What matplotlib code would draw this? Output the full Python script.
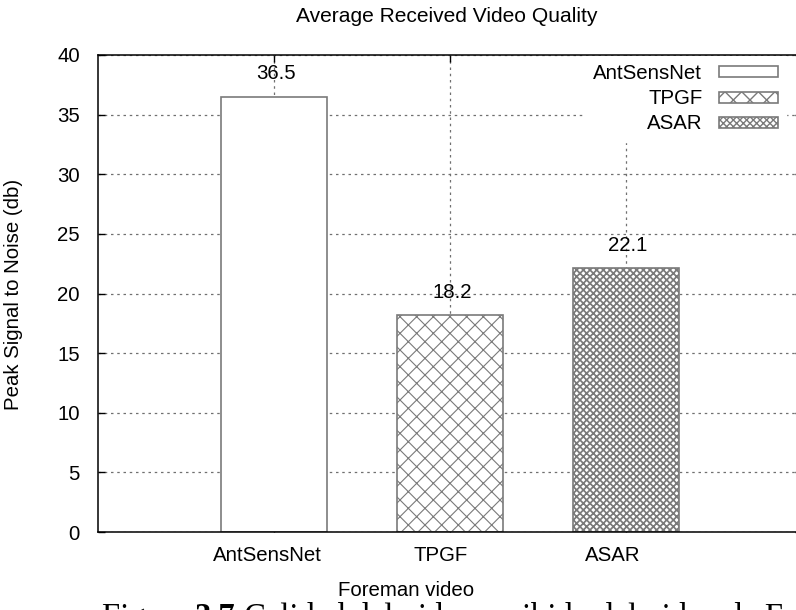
import matplotlib
matplotlib.use("Agg")
import matplotlib.pyplot as plt
import matplotlib.transforms as mtransforms
import numpy as np

# ---- data ----
categories = ["AntSensNet", "TPGF", "ASAR"]
psnr_values = [36.5, 18.2, 22.1]
value_labels = ["36.5", "18.2", "22.1"]
y_ticks = [0, 5, 10, 15, 20, 25, 30, 35, 40]

title = "Average Received Video Quality"
xlabel = "Foreman video"
ylabel = "Peak Signal to Noise (db)"
caption_parts = ["Figura ", "3.7", " Calidad del video recibido del video de Foreman"]

# ---- style ----
plt.rcParams['font.family'] = ['Liberation Sans', 'DejaVu Sans']
FS = 14.7
EDGE = '#7a7a7a'
GRID = '#707070'
hatches = [None, 'xx', 'xxxxx']
hatch_lw = [1.0, 0.8, 1.25]
label_dx_px = [-7, -9, -13]
SERIF = ['Liberation Serif', 'DejaVu Serif']
CAP_FS = 23.5

fig = plt.figure(figsize=(7.96, 6.10), dpi=100)
W, H = 796, 610
ax = fig.add_axes([98 / W, (H - 532) / H, 704 / W, (532 - 55) / H])

x = np.arange(len(categories))
for i, (xi, v) in enumerate(zip(x, psnr_values)):
    with plt.rc_context({'hatch.linewidth': hatch_lw[i]}):
        ax.bar(xi, v, width=0.6, facecolor='white', edgecolor=EDGE,
               linewidth=1.2, hatch=hatches[i], label=categories[i], zorder=3)

ax.set_xlim(-1, 3)
ax.set_ylim(0, 40)
ax.set_yticks(y_ticks)
ax.set_xticks(x)
ax.set_xticklabels(categories)

ax.grid(True, color=GRID, linewidth=0.9, linestyle=(0, (2, 3)), zorder=1)
ax.set_axisbelow(True)

ax.tick_params(axis='both', direction='in', length=5, width=1, labelsize=FS,
               top=True, right=True, color='black')
ax.tick_params(axis='y', pad=13)
ax.tick_params(axis='x', pad=10)
for lab, dx in zip(ax.get_xticklabels(), label_dx_px):
    lab.set_transform(lab.get_transform() +
                      mtransforms.ScaledTranslation(dx / 100, 0, fig.dpi_scale_trans))

for sp in ax.spines.values():
    sp.set_linewidth(1.1)
    sp.set_color('black')
    sp.set_zorder(8)

for xi, v, t in zip(x, psnr_values, value_labels):
    ax.annotate(t, xy=(xi, v), xytext=(1.5, 16.5), textcoords='offset points',
                ha='center', va='center', fontsize=FS, zorder=5)

# title / axis labels
fig.text(447 / W, 1 - 17 / H, title, ha='center', va='center', fontsize=15.1)
fig.text(406 / W, 1 - 590 / H, xlabel, ha='center', va='center', fontsize=FS)
fig.text(14 / W, 1 - 294 / H, ylabel, ha='center', va='center', fontsize=FS,
         rotation=90)

# legend
leg = ax.legend(loc='upper right', bbox_to_anchor=(786 / W, 1 - 56 / H),
                bbox_transform=fig.transFigure, markerfirst=False,
                fontsize=FS, frameon=True, fancybox=False, framealpha=1,
                edgecolor='white', facecolor='white', borderpad=0.4,
                borderaxespad=0, labelspacing=0.3, handlelength=2.9,
                handleheight=0.45, handletextpad=0.8)
leg.set_zorder(6)

# caption (cropped at the bottom edge), "3.7" in bold
renderer = fig.canvas.get_renderer()
base_y = -16 / H
cur_x = 102
for j, part in enumerate(caption_parts):
    t = fig.text(cur_x / W, base_y, part, ha='left', va='baseline',
                 fontsize=CAP_FS, family=SERIF,
                 fontweight='bold' if j == 1 else 'normal')
    ext = t.get_window_extent(renderer=renderer)
    cur_x = ext.x1

fig.savefig('out.png', dpi=100)
